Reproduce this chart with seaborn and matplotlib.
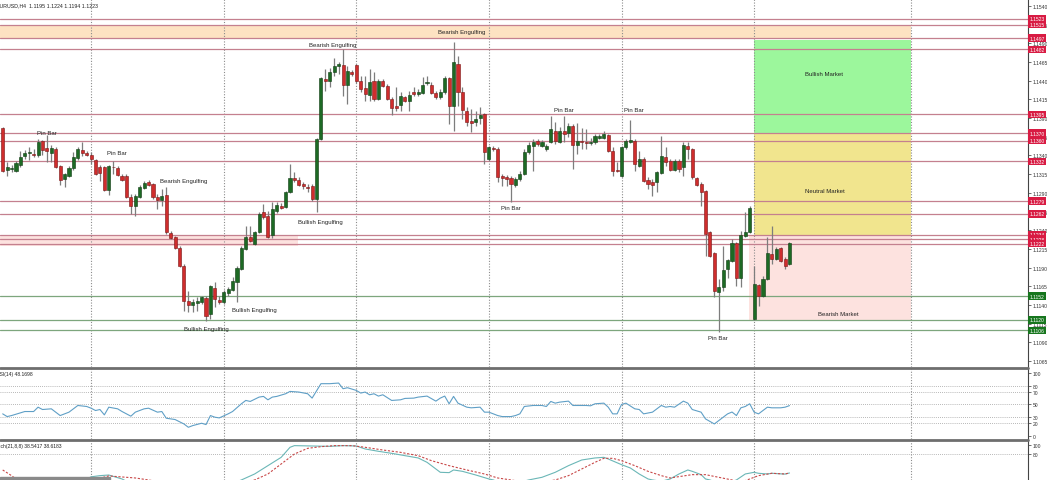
import matplotlib
matplotlib.use('Agg')
import numpy as np
import pandas as pd
import seaborn as sns
import matplotlib.pyplot as plt
from matplotlib.patches import Rectangle
from matplotlib.lines import Line2D

sns.set_theme(style='white')
plt.rcParams['font.family'] = ['Liberation Sans', 'DejaVu Sans']

# EURUSD H4 bars
opens = [1.1377, 1.1321, 1.1322, 1.1319, 1.1327, 1.1339, 1.1343, 1.1342, 1.1341, 1.1359,
         1.1350, 1.1343, 1.1349, 1.1326, 1.1309, 1.1313, 1.1323, 1.1337, 1.1347, 1.1343,
         1.1341, 1.1334, 1.1325, 1.1325, 1.1294, 1.1325, 1.1323, 1.1313, 1.1313, 1.1285,
         1.1272, 1.1285, 1.1297, 1.1305, 1.1302, 1.1285, 1.1280, 1.1287, 1.1236, 1.1231,
         1.1216, 1.1192, 1.1145, 1.1140, 1.1143, 1.1144, 1.1149, 1.1128, 1.1163, 1.1147,
         1.1144, 1.1156, 1.1160, 1.1171, 1.1188, 1.1215, 1.1231, 1.1222, 1.1238, 1.1264,
         1.1259, 1.1233, 1.1266, 1.1272, 1.1271, 1.1291, 1.1310, 1.1307, 1.1302, 1.1298,
         1.1299, 1.1282, 1.1362, 1.1442, 1.1440, 1.1452, 1.1460, 1.1461, 1.1434, 1.1452,
         1.1461, 1.1440, 1.1430, 1.1421, 1.1440, 1.1416, 1.1440, 1.1433, 1.1416, 1.1406,
         1.1408, 1.1418, 1.1413, 1.1425, 1.1422, 1.1424, 1.1437, 1.1434, 1.1424, 1.1418,
         1.1425, 1.1444, 1.1406, 1.1462, 1.1425, 1.1400, 1.1386, 1.1385, 1.1390, 1.1396,
         1.1335, 1.1350, 1.1349, 1.1313, 1.1311, 1.1310, 1.1301, 1.1309, 1.1315, 1.1345,
         1.1353, 1.1359, 1.1353, 1.1349, 1.1358, 1.1373, 1.1358, 1.1373, 1.1370, 1.1380,
         1.1354, 1.1359, 1.1358, 1.1357, 1.1358, 1.1363, 1.1363, 1.1367, 1.1346, 1.1321,
         1.1313, 1.1351, 1.1358, 1.1359, 1.1326, 1.1335, 1.1307, 1.1305, 1.1305, 1.1316,
         1.1338, 1.1332, 1.1321, 1.1332, 1.1325, 1.1353, 1.1349, 1.1310, 1.1302, 1.1292,
         1.1238, 1.1210, 1.1157, 1.1164, 1.1188, 1.1199, 1.1223, 1.1176, 1.1232, 1.1238,
         1.1121, 1.1167, 1.1152, 1.1175, 1.1208, 1.1202, 1.1216, 1.1202, 1.1195]
highs = [1.1378, 1.1331, 1.1327, 1.1333, 1.1346, 1.1347, 1.1351, 1.1349, 1.1362, 1.1361,
         1.1367, 1.1354, 1.1351, 1.1327, 1.1316, 1.1326, 1.1345, 1.1351, 1.1358, 1.1346,
         1.1345, 1.1335, 1.1327, 1.1326, 1.1327, 1.1333, 1.1326, 1.1315, 1.1315, 1.1289,
         1.1289, 1.1301, 1.1306, 1.1307, 1.1303, 1.1289, 1.1295, 1.1298, 1.1239, 1.1232,
         1.1219, 1.1195, 1.1159, 1.1148, 1.1151, 1.1152, 1.1152, 1.1167, 1.1171, 1.1152,
         1.1160, 1.1164, 1.1177, 1.1192, 1.1219, 1.1245, 1.1245, 1.1239, 1.1264, 1.1275,
         1.1266, 1.1278, 1.1278, 1.1276, 1.1293, 1.1329, 1.1318, 1.1311, 1.1305, 1.1302,
         1.1302, 1.1363, 1.1445, 1.1456, 1.1457, 1.1470, 1.1465, 1.1483, 1.1460, 1.1454,
         1.1462, 1.1446, 1.1446, 1.1456, 1.1452, 1.1442, 1.1442, 1.1436, 1.1418, 1.1432,
         1.1425, 1.1420, 1.1426, 1.1432, 1.1429, 1.1445, 1.1446, 1.1438, 1.1426, 1.1429,
         1.1446, 1.1445, 1.1492, 1.1473, 1.1432, 1.1405, 1.1402, 1.1400, 1.1405, 1.1397,
         1.1353, 1.1353, 1.1351, 1.1315, 1.1314, 1.1313, 1.1311, 1.1319, 1.1349, 1.1358,
         1.1362, 1.1362, 1.1361, 1.1355, 1.1393, 1.1385, 1.1378, 1.1393, 1.1384, 1.1382,
         1.1384, 1.1377, 1.1375, 1.1363, 1.1369, 1.1369, 1.1373, 1.1369, 1.1351, 1.1331,
         1.1353, 1.1362, 1.1388, 1.1362, 1.1346, 1.1338, 1.1311, 1.1309, 1.1319, 1.1366,
         1.1351, 1.1335, 1.1335, 1.1335, 1.1358, 1.1358, 1.1350, 1.1311, 1.1305, 1.1294,
         1.1239, 1.1211, 1.1175, 1.1219, 1.1202, 1.1228, 1.1224, 1.1239, 1.1264, 1.1272,
         1.1192, 1.1168, 1.1179, 1.1231, 1.1245, 1.1218, 1.1218, 1.1204, 1.1224]
lows = [1.1318, 1.1313, 1.1318, 1.1318, 1.1325, 1.1335, 1.1334, 1.1338, 1.1338, 1.1341,
        1.1331, 1.1331, 1.1323, 1.1301, 1.1298, 1.1311, 1.1321, 1.1334, 1.1339, 1.1339,
        1.1329, 1.1314, 1.1306, 1.1293, 1.1287, 1.1315, 1.1313, 1.1306, 1.1283, 1.1262,
        1.1259, 1.1283, 1.1295, 1.1299, 1.1282, 1.1268, 1.1272, 1.1235, 1.1228, 1.1215,
        1.1191, 1.1132, 1.1131, 1.1131, 1.1132, 1.1141, 1.1119, 1.1121, 1.1137, 1.1141,
        1.1141, 1.1152, 1.1159, 1.1144, 1.1187, 1.1214, 1.1224, 1.1220, 1.1236, 1.1255,
        1.1230, 1.1230, 1.1263, 1.1268, 1.1270, 1.1290, 1.1305, 1.1299, 1.1295, 1.1291,
        1.1279, 1.1264, 1.1361, 1.1426, 1.1432, 1.1446, 1.1449, 1.1420, 1.1409, 1.1446,
        1.1437, 1.1425, 1.1413, 1.1413, 1.1413, 1.1414, 1.1432, 1.1414, 1.1394, 1.1400,
        1.1400, 1.1412, 1.1400, 1.1420, 1.1420, 1.1422, 1.1434, 1.1422, 1.1416, 1.1416,
        1.1422, 1.1382, 1.1373, 1.1406, 1.1389, 1.1380, 1.1371, 1.1380, 1.1382, 1.1329,
        1.1332, 1.1346, 1.1305, 1.1299, 1.1299, 1.1278, 1.1298, 1.1306, 1.1314, 1.1342,
        1.1319, 1.1353, 1.1351, 1.1346, 1.1357, 1.1355, 1.1357, 1.1358, 1.1365, 1.1322,
        1.1342, 1.1349, 1.1349, 1.1354, 1.1355, 1.1362, 1.1362, 1.1345, 1.1313, 1.1318,
        1.1311, 1.1349, 1.1357, 1.1319, 1.1325, 1.1305, 1.1295, 1.1286, 1.1291, 1.1315,
        1.1326, 1.1319, 1.1319, 1.1318, 1.1313, 1.1335, 1.1309, 1.1299, 1.1272, 1.1206,
        1.1204, 1.1151, 1.1104, 1.1159, 1.1176, 1.1197, 1.1165, 1.1164, 1.1231, 1.1236,
        1.1120, 1.1139, 1.1151, 1.1173, 1.1195, 1.1200, 1.1197, 1.1188, 1.1194]
closes = [1.1319, 1.1325, 1.1323, 1.1330, 1.1338, 1.1343, 1.1344, 1.1340, 1.1358, 1.1347,
          1.1346, 1.1350, 1.1325, 1.1307, 1.1315, 1.1323, 1.1338, 1.1349, 1.1343, 1.1341,
          1.1335, 1.1315, 1.1316, 1.1294, 1.1326, 1.1324, 1.1314, 1.1307, 1.1285, 1.1272,
          1.1286, 1.1298, 1.1303, 1.1301, 1.1285, 1.1280, 1.1286, 1.1238, 1.1230, 1.1216,
          1.1192, 1.1145, 1.1140, 1.1144, 1.1145, 1.1151, 1.1125, 1.1165, 1.1148, 1.1144,
          1.1157, 1.1161, 1.1172, 1.1189, 1.1216, 1.1231, 1.1226, 1.1238, 1.1262, 1.1258,
          1.1231, 1.1268, 1.1274, 1.1270, 1.1291, 1.1310, 1.1307, 1.1301, 1.1299, 1.1296,
          1.1282, 1.1362, 1.1444, 1.1440, 1.1452, 1.1460, 1.1462, 1.1434, 1.1453, 1.1449,
          1.1440, 1.1429, 1.1422, 1.1438, 1.1416, 1.1440, 1.1433, 1.1416, 1.1404, 1.1404,
          1.1420, 1.1413, 1.1421, 1.1422, 1.1425, 1.1434, 1.1438, 1.1424, 1.1418, 1.1425,
          1.1444, 1.1406, 1.1465, 1.1425, 1.1401, 1.1385, 1.1384, 1.1389, 1.1394, 1.1345,
          1.1351, 1.1349, 1.1311, 1.1310, 1.1309, 1.1302, 1.1309, 1.1315, 1.1345, 1.1354,
          1.1358, 1.1355, 1.1358, 1.1353, 1.1375, 1.1359, 1.1373, 1.1369, 1.1380, 1.1354,
          1.1359, 1.1358, 1.1357, 1.1358, 1.1366, 1.1366, 1.1369, 1.1346, 1.1319, 1.1319,
          1.1351, 1.1359, 1.1361, 1.1329, 1.1335, 1.1306, 1.1302, 1.1301, 1.1318, 1.1339,
          1.1331, 1.1321, 1.1332, 1.1322, 1.1354, 1.1349, 1.1311, 1.1301, 1.1291, 1.1235,
          1.1206, 1.1159, 1.1164, 1.1187, 1.1200, 1.1223, 1.1176, 1.1234, 1.1238, 1.1270,
          1.1168, 1.1152, 1.1175, 1.1210, 1.1202, 1.1215, 1.1199, 1.1192, 1.1223]

# horizontal levels drawn on the chart (axis labels show the price)
res_levels = [1.1523, 1.1515, 1.1497, 1.1482, 1.1395, 1.1370, 1.1360, 1.1332,
              1.1279, 1.1262, 1.1234, 1.1228, 1.1222]
sup_levels = [1.1152, 1.1120, 1.1106]

# market zones: bar span and price span
zone_names = ['', 'Bullish Market', 'Neutral Market', 'Bearish Market', '']
zone_start = [-1, 170, 170, 168.8, -1]
zone_end = [205.5, 205.5, 205.5, 205.5, 66.8]
zone_low = [1.1496, 1.1369, 1.1232, 1.1119, 1.1219]
zone_high = [1.1513, 1.1495, 1.1369, 1.1232, 1.1232]
zone_text_bar = [0, 185.8, 186, 189, 0]
zone_text_price = [0, 1.1450, 1.1293, 1.1128, 0]

# candle pattern labels
pattern_text = ['Bearish Engulfing', 'Bearish Engulfing', 'Pin Bar', 'Pin Bar',
                'Bearish Engulfing', 'Bullish Engulfing', 'Bullish Engulfing',
                'Bullish Engulfing', 'Pin Bar', 'Pin Bar', 'Pin Bar', 'Pin Bar']
pattern_bar = [103.9, 74.7, 10, 25.9, 41, 71.8, 56.9, 46, 115, 127, 142.8, 161.8]
pattern_price = [1.1506, 1.1489, 1.1371, 1.1344, 1.1306, 1.1252, 1.1134, 1.1108,
                 1.1270, 1.1401, 1.1401, 1.1096]

# RSI(14)
rsi_bar = [0, 1, 2, 4, 5, 7, 8, 9, 11, 12, 13, 15, 17, 19, 20, 21, 22, 23, 24, 26,
           27, 29, 30, 32, 33, 35, 36, 37, 39, 41, 42, 43, 45, 46, 47, 48, 49, 51, 52, 54,
           55, 56, 58, 59, 60, 61, 62, 64, 65, 67, 69, 70, 72, 74, 76, 77, 78, 80, 81, 82,
           83, 84, 85, 86, 88, 90, 91, 93, 94, 96, 98, 99, 100, 101, 102, 103, 105, 106, 108, 109,
           110, 112, 113, 115, 116, 117, 118, 120, 122, 123, 124, 125, 126, 128, 129, 131, 132, 133, 134, 136,
           137, 138, 139, 140, 141, 143, 144, 145, 147, 149, 150, 151, 152, 154, 155, 156, 158, 159, 161, 162,
           164, 165, 166, 167, 168, 169, 170, 171, 172, 173, 174, 176, 177, 178]
rsi_val = [35.1, 30.8, 32.4, 36.7, 38.8, 38.8, 45.7, 42.0, 43.1, 37.8, 32.4, 37.8, 48.4, 46.8, 44.1, 40.4, 42.0, 33.5, 45.7, 43.1,
           38.8, 31.4, 37.8, 43.1, 44.1, 37.8, 38.8, 28.2, 26.1, 19.1, 13.8, 16.5, 20.2, 18.1, 32.4, 29.8, 28.7, 35.1, 38.8, 51.1,
           56.4, 54.8, 61.7, 62.8, 57.4, 61.7, 62.8, 67.0, 70.7, 69.7, 67.0, 60.1, 83.0, 83.0, 84.0, 75.0, 76.6, 72.3, 68.1, 69.7,
           65.4, 67.0, 63.3, 65.4, 56.4, 57.4, 59.6, 60.1, 61.7, 63.3, 55.3, 60.1, 63.3, 51.1, 62.8, 52.1, 45.7, 44.7, 45.7, 37.8,
           37.8, 32.4, 30.8, 30.8, 32.4, 35.1, 46.8, 48.4, 48.4, 46.8, 54.8, 52.1, 53.7, 55.3, 48.4, 48.4, 48.4, 47.9, 51.1, 52.1,
           45.7, 35.1, 35.1, 50.0, 52.1, 43.1, 42.0, 35.1, 37.8, 48.4, 45.7, 46.8, 45.7, 55.3, 52.1, 42.0, 37.8, 27.1, 19.1, 24.4,
           35.1, 38.0, 32.4, 44.7, 46.8, 51.1, 37.8, 35.1, 40.4, 45.7, 44.7, 44.7, 45.7, 48.2]

# Stochastic(21,8,8) main and signal
st_bar = [0, 10, 18, 20, 22, 24, 25, 27, 28, 33, 40, 50, 54, 57, 60, 63, 65, 66, 70, 74,
          77, 80, 82, 85, 88, 91, 94, 96, 99, 101, 102, 104, 107, 110, 111, 113, 117, 119, 122, 125,
          128, 131, 134, 136, 137, 140, 142, 144, 146, 147, 149, 151, 153, 155, 156, 158, 159, 160, 163, 166,
          168, 170, 171, 173, 174, 177, 178]
st_main = [14, 12, 20, 30, 32.6, 34, 31, 25.2, 20, 10, 5, 8, 23, 36.3, 54.8, 73.3, 95.6, 99.3, 98.5, 97.7,
           99.3, 98.5, 91.9, 86.7, 82.2, 77.0, 71.9, 62.2, 40.0, 39.3, 45.2, 42.2, 34.1, 25.2, 23.0, 15, 18, 23, 28.9, 40,
           54.8, 67.4, 71.9, 73.3, 69.6, 57, 49.6, 36.3, 25.2, 23, 20, 25.2, 36.3, 45.2, 42.2, 34.8, 25.2, 23, 12, 23,
           36.3, 40, 37.8, 36.3, 37.8, 36, 38.5]
sig_bar = [0, 2, 3, 10, 20, 22, 24, 26, 30, 33, 40, 50, 57, 60, 63, 66, 69, 72, 75, 79,
           82, 86, 90, 94, 97, 101, 105, 109, 112, 115, 120, 125, 128, 131, 134, 136, 138, 140, 143, 146,
           149, 151, 153, 156, 159, 162, 165, 167, 169, 171, 174, 177, 178]
st_signal = [45.2, 32.6, 25.2, 12, 20, 27, 31.9, 30.4, 27.4, 23, 10, 8, 23, 36.3, 58.5, 80.7, 93.3, 97.0, 99.3, 99.3,
             95.6, 89.6, 84.4, 77.0, 65.9, 54.8, 45.2, 36.3, 27.4, 23, 15, 23, 32.6, 47.4, 62.2, 71.1, 71.1, 65.9, 54.8, 42.2,
             32.6, 27.4, 30.4, 34.8, 34.8, 28.9, 23, 18, 25.2, 32.6, 37.8, 36.3, 38.6]

grid_bars = [20, 50, 80, 110, 140, 170, 205.5]

df = pd.DataFrame({'open': opens, 'high': highs, 'low': lows, 'close': closes})
df['bar'] = np.arange(len(df))
df['bull'] = df['close'] >= df['open']

W, H = 1047, 481
fig = plt.figure(figsize=(W / 100, H / 100), dpi=100)
fig.patch.set_facecolor('white')


def box(x0, y0, x1, y1):
    return [x0 / W, 1 - y1 / H, (x1 - x0) / W, (y1 - y0) / H]


ax = fig.add_axes(box(0, 0, 1028, 368))
ax_rsi = fig.add_axes(box(0, 370, 1028, 440))
ax_st = fig.add_axes(box(0, 442, 1028, 481))

grid_kw = dict(color='#8c8c8c', lw=0.8, ls=(0, (1, 1.5)), zorder=1.5)
for a in (ax, ax_rsi, ax_st):
    a.set_facecolor('white')
    a.set_xlim(-0.61, 231.96)
    for s in ('left', 'top', 'bottom'):
        a.spines[s].set_visible(False)
    a.spines['right'].set_color('#444444')
    a.spines['right'].set_linewidth(0.8)
    a.set_xticks([])
    a.yaxis.tick_right()
    a.tick_params(axis='y', labelsize=3.6, length=2, width=0.5, pad=1.2,
                  colors='#333333', right=True, left=False)
    for gb in grid_bars:
        a.axvline(gb, **grid_kw)
    a.grid(False)

# ---- main price panel
ax.set_ylim(1.10570, 1.15494)
yt = np.arange(1.1065, 1.15405, 0.0025)
ax.set_yticks(yt)
ax.set_yticklabels([f'{v:.4f}' for v in yt])

zone_colors = ['#fde2c2', '#9cf79c', '#f1e58e', '#fde2df', '#fde2df']
for i in range(len(zone_names)):
    ax.add_patch(Rectangle((zone_start[i], zone_low[i]), zone_end[i] - zone_start[i],
                           zone_high[i] - zone_low[i], color=zone_colors[i], lw=0, zorder=1))
    if zone_names[i]:
        ax.text(zone_text_bar[i], zone_text_price[i], zone_names[i], fontsize=4.3,
                color='#222222', ha='center', va='center', zorder=6)

for p in res_levels:
    ax.axhline(p, color='#c4808f', lw=0.9, zorder=2)
    ax.text(1.0015, p, f'{p:.4f}', transform=ax.get_yaxis_transform(), fontsize=3.6,
            color='white', ha='left', va='center', clip_on=False, zorder=10,
            bbox=dict(boxstyle='square,pad=0.25', fc='#d81b43', ec='none'))
for p in sup_levels:
    ax.axhline(p, color='#7da67d', lw=0.9, zorder=2)
    ax.text(1.0015, p, f'{p:.4f}', transform=ax.get_yaxis_transform(), fontsize=3.6,
            color='white', ha='left', va='center', clip_on=False, zorder=10,
            bbox=dict(boxstyle='square,pad=0.25', fc='#17761e', ec='none'))

# candles
ax.vlines(df['bar'], df['low'], df['high'], color='#7d7d7d', lw=0.9, zorder=3)
body = (df['close'] - df['open']).abs().clip(lower=0.00012)
bottom = df[['open', 'close']].min(axis=1)
ax.bar(df['bar'], body, bottom=bottom, width=0.7,
       color=np.where(df['bull'], '#1d6a24', '#cf2d2d'),
       edgecolor=np.where(df['bull'], '#0f3a12', '#7a1515'), linewidth=0.4, zorder=4)

for t, b, p in zip(pattern_text, pattern_bar, pattern_price):
    ax.text(b, p, t, fontsize=4.3, color='#222222', ha='center', va='center', zorder=6)

# ---- RSI panel
ax_rsi.set_ylim(-4.8, 106.3)
ax_rsi.set_yticks([0, 20, 30, 50, 70, 80, 100])
for lv in (20, 30, 50, 70, 80):
    ax_rsi.axhline(lv, color='#a0a0a0', lw=0.6, ls=(0, (1, 1.5)), zorder=1)
sns.lineplot(x=rsi_bar, y=rsi_val, ax=ax_rsi, color='#5f9fc6', lw=0.8,
             estimator=None, sort=False, zorder=3)

# ---- Stochastic panel
ax_st.set_ylim(22.9, 109.6)
ax_st.set_yticks([80, 100])
ax_st.axhline(80, color='#a0a0a0', lw=0.6, ls=(0, (1, 1.5)), zorder=1)
sns.lineplot(x=st_bar, y=st_main, ax=ax_st, color='#6bb7b7', lw=0.8,
             estimator=None, sort=False, zorder=3)
sns.lineplot(x=sig_bar, y=st_signal, ax=ax_st, color='#c84848', lw=0.8,
             estimator=None, sort=False, zorder=3, dashes=False)
ax_st.lines[-1].set_linestyle((0, (2, 1.5)))

for a in (ax_rsi, ax_st):
    a.set_xlabel('')
    a.set_ylabel('')
    a.set_xlim(-0.61, 231.96)

# panel separators
for yy in (369, 441):
    fig.add_artist(Line2D([0, 1028 / W], [1 - yy / H] * 2, color='#6e6e6e', lw=2.0,
                          transform=fig.transFigure))
fig.add_artist(Rectangle((0, 0), 110 / W, 3 / H, color='#8a8a8a', transform=fig.transFigure))

fig.text(-4 / W, 1 - 6 / H, 'EURUSD,H4  1.1195 1.1224 1.1194 1.1223', fontsize=3.8,
         color='#222222', va='center', ha='left')
fig.text(-4 / W, 1 - 375 / H, 'RSI(14) 48.1698', fontsize=3.6, color='#222222',
         va='center', ha='left')
fig.text(-7 / W, 1 - 447 / H, 'Stoch(21,8,8) 38.5417 38.6183', fontsize=3.6,
         color='#222222', va='center', ha='left')

fig.savefig('out.png', dpi=100)
